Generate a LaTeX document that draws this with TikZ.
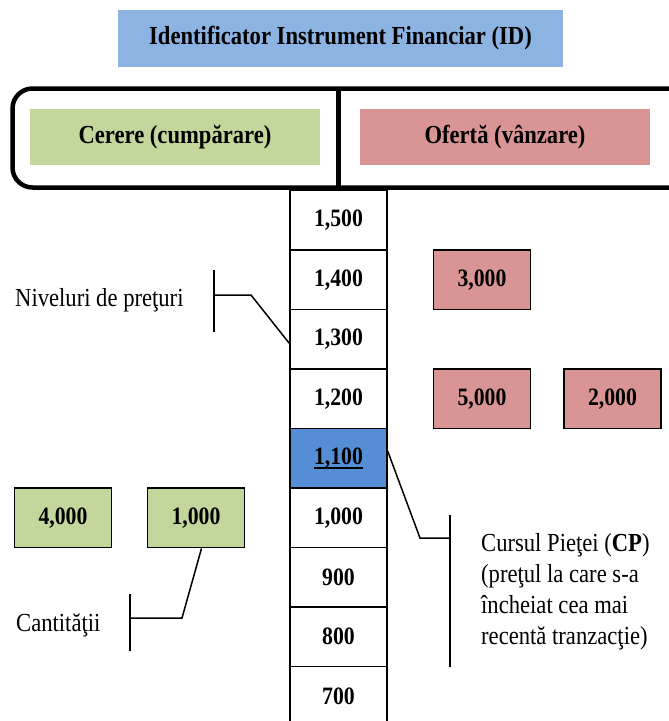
\documentclass[tikz,border=0pt]{standalone}
\usepackage{fontspec}
\setmainfont{Liberation Serif}[FakeStretch=0.87]
\usetikzlibrary{calc}
\definecolor{idblue}{HTML}{8DB3E2}
\definecolor{bidgreen}{HTML}{C3D69B}
\definecolor{askred}{HTML}{D99594}
\definecolor{lastblue}{HTML}{558ED5}
% heavy underline for the last traded price
\newcommand{\heavyul}[1]{\leavevmode\setbox0\hbox{#1}\rlap{\rule[-5pt]{\wd0}{2.3pt}}\box0}
\begin{document}
\begin{tikzpicture}[x=1pt,y=-1pt,
  every node/.style={inner sep=0pt, font=\fontsize{26}{31}\selectfont},
  header/.style={minimum width=290pt, minimum height=56pt, font=\fontsize{26}{31}\selectfont\bfseries},
  cell/.style={draw=black, line width=1.5pt, minimum width=97pt, minimum height=59.5pt,
               font=\fontsize{25}{30}\selectfont\bfseries},
  qty/.style={cell, line width=1.8pt},
  callout/.style={line width=1.5pt},
  frame/.style={line width=4.5pt}
]
\useasboundingbox (0,0) rectangle (669,721);
\clip (0,0) rectangle (669,721);

% instrument identifier
\node[fill=idblue, minimum width=445pt, minimum height=57pt,
      font=\fontsize{26}{31}\selectfont\bfseries] (title) at (340.5,38.5)
  {Identificator Instrument Financiar (ID)};

% bid / ask frame
\draw[frame, rounded corners=20pt] (12.5,88.5) rectangle (720,187.5);
\draw[frame] (338.5,88.5) -- (338.5,187.5);
\node[header, fill=bidgreen] (bid) at (175,137) {Cerere (cumpărare)};
\node[header, fill=askred] (ask) at (505,137) {Ofertă (vânzare)};

% price ladder
\foreach \v/\t [count=\i from 0] in {1500/{1,500},1400/{1,400},1300/{1,300},1200/{1,200},
    1100/{\heavyul{1,100}},1000/{1,000},900/900,800/800,700/700}{
  \ifnum\v=1100
    \node[cell, fill=lastblue] (p\v) at (338.5,220.25+59.5*\i) {\t};
  \else
    \node[cell] (p\v) at (338.5,220.25+59.5*\i) {\t};
  \fi
}

% ask quantities
\node[qty, fill=askred] (a3000) at (482,279.75) {3,000};
\node[qty, fill=askred] (a5000) at (482,398.75) {5,000};
\node[qty, fill=askred] (a2000) at (612.5,398.75) {2,000};

% bid quantities
\node[qty, fill=bidgreen] (b4000) at (63,517.75) {4,000};
\node[qty, fill=bidgreen] (b1000) at (196,517.75) {1,000};

% callout: price levels
\node[anchor=base west] (levels) at (15,306.5) {Niveluri de preţuri};
\coordinate (levbar) at (214,295);
\draw[callout] (214,270) -- (214,332);
\draw[callout] (levbar) -- (251,295) -- ($(p1300.west)+(0,4)$);

% callout: quantities
\node[anchor=base west] (qtylabel) at (16,631.5) {Cantităţii};
\coordinate (qtybar) at (130,618);
\draw[callout] (130,594) -- (130,651);
\draw[callout] (qtybar) -- (182,618) -- ($(b1000.south)+(5.5,0)$);

% callout: market price (base anchor sits on the last line)
\coordinate (cpbar) at (450,538);
\draw[callout] (450,515) -- (450,667);
\draw[callout] ($(p1100.east)+(0,-7)$) -- (420,538) -- (cpbar);
\node[anchor=base west, align=left] (cptext) at (481,644)
  {Cursul Pieţei (\textbf{CP})\\(preţul la care s-a\\încheiat cea mai\\recentă tranzacţie)};
\end{tikzpicture}
\end{document}
